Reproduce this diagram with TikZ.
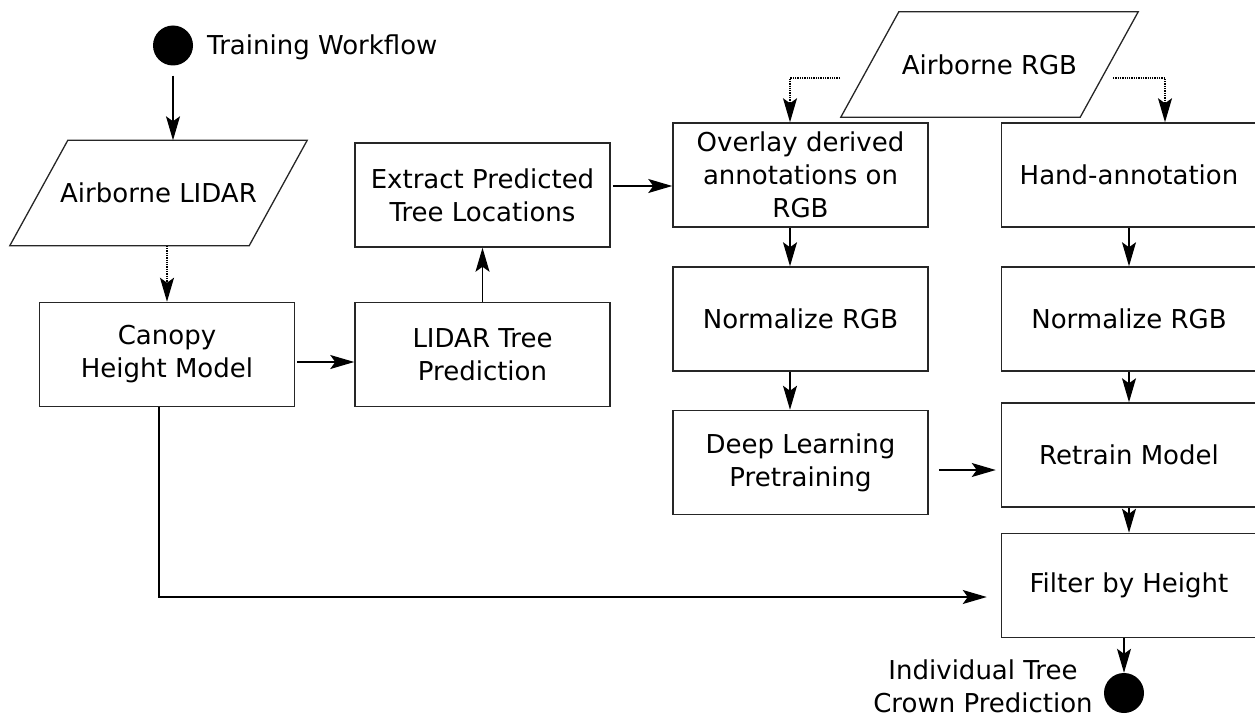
\documentclass[tikz,border=0pt]{standalone}
\usepackage{fontspec}
\setmainfont{DejaVu Sans}
\usetikzlibrary{arrows.meta}

\newcommand\flowtextstyle{\fontsize{26}{33}\selectfont}
\newcommand\flowboxwidth{255pt}
\newcommand\flowboxheight{104pt}
\newcommand\flowslant{29pt}
\newcommand\flowline{black!85}
% parallelogram drawn round a named rectangle node
\newcommand\flowdata[3]{
  \node[flowdatabody] (#1) at (#2) {#3};
  \draw[flowdataedge] ([xshift=-\flowslant]#1.south west) -- ([xshift=-\flowslant]#1.south east)
     -- ([xshift=\flowslant]#1.north east) -- ([xshift=\flowslant]#1.north west) -- cycle;
}

\tikzset{
  flowbox/.style={draw=\flowline, line width=1.5pt, minimum width=\flowboxwidth,
    minimum height=\flowboxheight, align=center, font=\flowtextstyle, inner sep=0pt},
  flowdatabody/.style={minimum width=239pt, minimum height=105pt, font=\flowtextstyle, inner sep=0pt},
  flowdataedge/.style={draw=\flowline, line width=1.3pt, line join=miter},
  flowdot/.style={fill=black, circle, minimum size=40pt, inner sep=0pt},
  flowarrow/.style={draw=black, line width=1.3pt,
    -{Stealth[length=24pt,width=14pt,inset=5pt]}},
  flowdotted/.style={flowarrow, densely dotted},
}

\begin{document}
\begin{tikzpicture}[x=1pt, y=-1pt]
    \useasboundingbox (0,0) rectangle (1255,717);
    % lidar branch
    \node[flowdot] (start) at (173,45.5) {};
    \node[anchor=base west, font=\flowtextstyle, inner sep=0pt] (starttext) at (207,55) {Training Workflow};
    \flowdata{lidar}{158.5,193}{Airborne LIDAR}
    \node[flowbox] (canopy) at (167,354.5) {Canopy\\Height Model};
    \node[flowbox] (lidarpred) at (482.5,354.5) {LIDAR Tree\\Prediction};
    \node[flowbox] (extract) at (482.5,195) {Extract Predicted\\Tree Locations};
    % rgb branch
    \flowdata{rgb}{989.5,64.5}{Airborne RGB}
    \coordinate (rgbleft) at (840,78);
    \coordinate (rgbright) at (1113,78);
    \node[flowbox] (overlay) at (800.5,175) {Overlay derived\\annotations on\\RGB};
    \node[flowbox] (normleft) at (800.5,319) {Normalize RGB};
    \node[flowbox] (deep) at (800.5,462.5) {Deep Learning\\Pretraining};
    \node[flowbox] (hand) at (1129,175) {Hand-annotation};
    \node[flowbox] (normright) at (1129,319) {Normalize RGB};
    \node[flowbox] (retrain) at (1129,455) {Retrain Model};
    \node[flowbox] (filter) at (1129,585.5) {Filter by Height};
    \node[flowdot] (finish) at (1124,693) {};
    \node[font=\flowtextstyle, align=center, inner sep=0pt] (finishtext) at (983,686) {Individual Tree\\Crown Prediction};

    \draw[flowarrow] ([yshift=-10pt]start.south) -- (start.south |- lidar.north);
    \draw[flowdotted] (lidar.south -| canopy.north) -- (canopy.north);
    \draw[flowarrow, shorten <=2pt] ([yshift=-7.5pt]canopy.east) -- ([yshift=-7.5pt]lidarpred.west);
    \draw[flowarrow] (lidarpred.north) -- (extract.south);
    \draw[flowarrow, shorten <=2pt] ([yshift=9pt]extract.east) -- ([yshift=9pt]extract.east -| overlay.west);
    \draw[flowdotted] (rgbleft) -| ([xshift=-10.5pt]overlay.north);
    \draw[flowdotted] (rgbright) -| ([xshift=36pt]hand.north);
    \draw[flowarrow] ([xshift=-10.5pt]overlay.south) -- ([xshift=-10.5pt]normleft.north);
    \draw[flowarrow] ([xshift=-10.5pt]normleft.south) -- ([xshift=-10.5pt]deep.north);
    \draw[flowarrow, shorten <=10pt, shorten >=5pt] ([yshift=-7.5pt]deep.east) -- ([yshift=-7.5pt]deep.east -| retrain.west);
    \draw[flowarrow] (hand.south) -- (normright.north);
    \draw[flowarrow] (normright.south) -- (retrain.north);
    \draw[flowarrow] (retrain.south) -- (filter.north);
    \draw[flowarrow] (finish.north |- filter.south) -- (finish.north);
    \draw[flowarrow, shorten >=14pt] ([xshift=-8pt]canopy.south) |- ([yshift=-11.5pt]filter.west);
\end{tikzpicture}
\end{document}
